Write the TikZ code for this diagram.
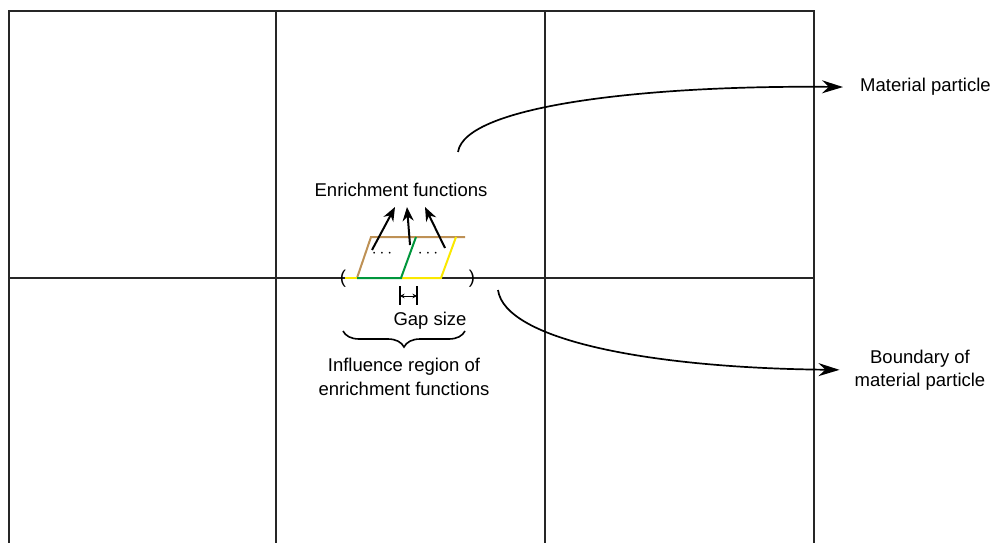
\documentclass[tikz,border=0pt]{standalone}
\usepackage{fontspec}
\setmainfont{Liberation Sans}
\usetikzlibrary{arrows.meta,decorations.pathreplacing}
\definecolor{brun}{RGB}{190,145,85}
\definecolor{vert}{RGB}{0,150,60}
\definecolor{jaune}{RGB}{250,232,0}
\begin{document}
\begin{tikzpicture}[x=1pt,y=-1pt,
	grille/.style={line width=2pt,black!85},
	fleche/.style={line width=1.7pt,-{Stealth[length=21pt,width=13pt]}},
	petitefleche/.style={line width=2pt,-{Stealth[length=14pt,width=11pt]}},
	texte/.style={font=\fontsize{18.5}{23.5}\selectfont,inner sep=0pt,align=center},
	segment/.style={line width=2pt}]
	\useasboundingbox (0,0) rectangle (994,543);
	%Grille
	\draw[grille] (9,543)--(9,11)--(814,11)--(814,543);
	\draw[grille] (276,11)--(276,543);
	\draw[grille] (545,11)--(545,543);
	\draw[grille] (9,278)--(814,278);
	%Parallelogrammes
	\draw[segment,brun] (357,278)--(371,237)--(465,237);
	\draw[segment,jaune] (345,278)--(357,278);
	\draw[segment,jaune] (401,278)--(441,278)--(456,237);
	\draw[segment,vert] (357,278)--(401,278)--(416,237);
	\node[texte] (D1) at (382,254) {$\cdots$};
	\node[texte] (D2) at (428,254) {$\cdots$};
	\node[texte] (PO) at (343,279) {(};
	\node[texte] (PF) at (472,279) {)};
	%Textes
	\node[texte,anchor=base] (E) at (401,196) {Enrichment functions};
	\node[texte,anchor=base] (G) at (430,325) {Gap size};
	\node[texte] (I) at (404,377) {Influence region of\\enrichment functions};
	\node[texte,anchor=base west] (M) at (860,92) {Material particle};
	\node[texte] (B) at (920,370) {Boundary of\\material particle};
	%Fleches des fonctions d'enrichissement
	\coordinate (A1) at (372,250);
	\coordinate (A2) at (410,245);
	\coordinate (A3) at (445,248);
	\coordinate (T1) at (395,207);
	\coordinate (T2) at (407,207);
	\coordinate (T3) at (425,207);
	\draw[petitefleche] (A1)--(T1);
	\draw[petitefleche] (A2)--(T2);
	\draw[petitefleche] (A3)--(T3);
	%Ecart
	\coordinate (G1) at (400,296);
	\coordinate (G2) at (417,296);
	\draw[line width=1.5pt] (400,286)--(400,305);
	\draw[line width=1.5pt] (417,286)--(417,305);
	\draw[line width=0.9pt,{Stealth[length=4.5pt,width=4.5pt]}-{Stealth[length=4.5pt,width=4.5pt]}] (G1)--(G2);
	%Accolade
	\draw[line width=1.6pt,decorate,decoration={brace,mirror,amplitude=16pt}] (343,331)--(465,331);
	%Courbes
	\coordinate (C1) at (458,152);
	\coordinate (C2) at (498,290);
	\draw[fleche,shorten >=17pt] (C1) .. controls (465,105) and (650,85) .. (M.west);
	\draw[fleche,shorten >=15pt] (C2) .. controls (505,340) and (650,368) .. (B.west);
\end{tikzpicture}
\end{document}
